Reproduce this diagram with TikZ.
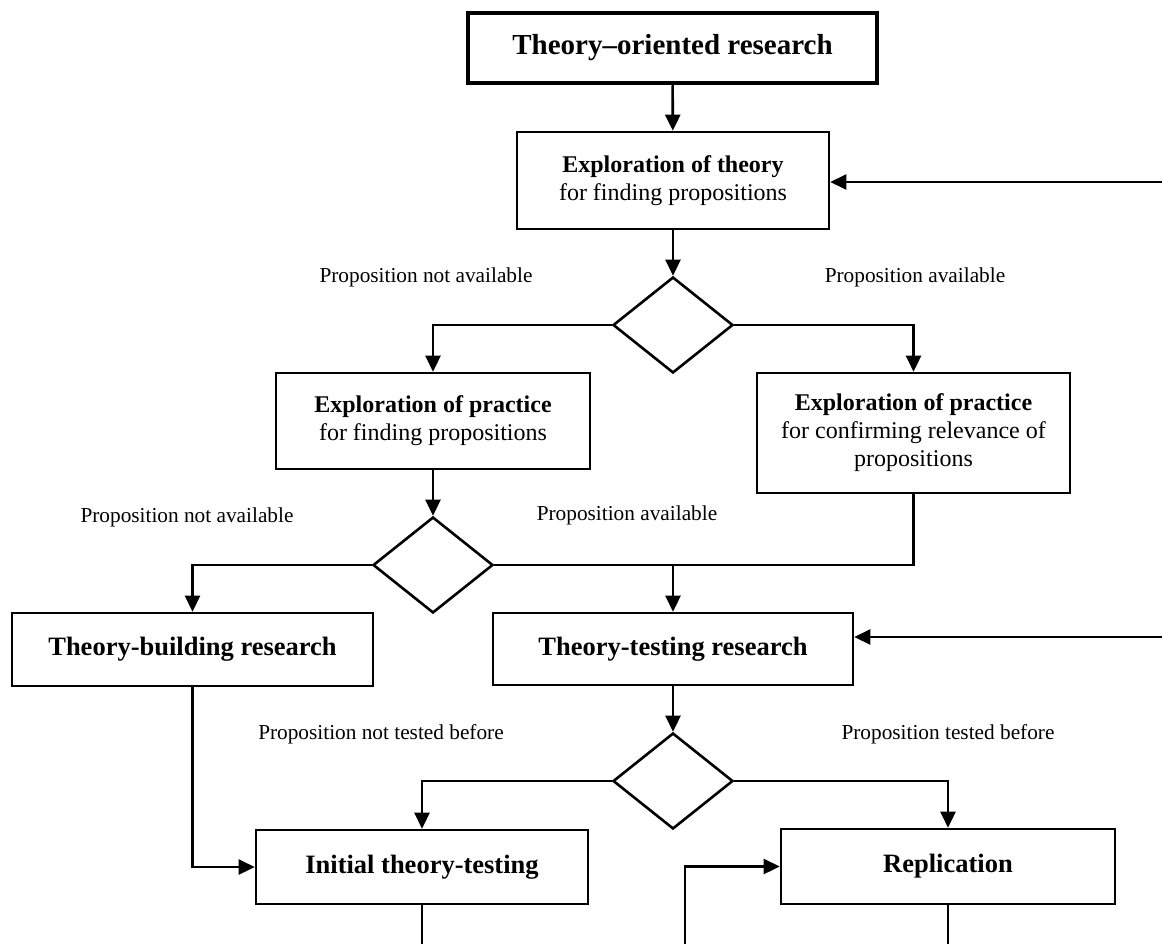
\documentclass[tikz,border=0pt]{standalone}
\usepackage{fontspec}
\setmainfont{Liberation Serif}
\usetikzlibrary{arrows.meta,shapes.geometric}

\begin{document}
\begin{tikzpicture}[x=1pt,y=-1pt,
  line width=2.6pt,
  >={Triangle[length=16pt,width=15pt]},
  box/.style={draw,rectangle,inner sep=0pt,align=center,
    font=\fontsize{24}{28}\selectfont},
  bigbox/.style={box,font=\fontsize{26.5}{30}\selectfont\bfseries},
  titlebox/.style={box,line width=4.5pt,font=\fontsize{29}{33}\selectfont\bfseries},
  decision/.style={draw,diamond,inner sep=0pt,minimum width=120pt,minimum height=96pt},
  lbl/.style={font=\fontsize{21.3}{25}\selectfont,inner sep=0pt}]

\useasboundingbox (0,0) rectangle (1162,944);

% process boxes
\node[titlebox,minimum width=409pt,minimum height=70pt] (top) at (672.5,48) {Theory--oriented research};
\node[box,minimum width=312pt,minimum height=97pt] (expth) at (673,180.5)
  {\textbf{Exploration of theory}\\for finding propositions};
\node[box,minimum width=314pt,minimum height=96pt] (exppr) at (433,421)
  {\textbf{Exploration of practice}\\for finding propositions};
\node[box,minimum width=313pt,minimum height=120pt] (expcf) at (913.5,433)
  {\textbf{Exploration of practice}\\for confirming relevance of\\propositions};
\node[bigbox,minimum width=361pt,minimum height=73pt] (build) at (192.5,649.5) {Theory-building research};
\node[bigbox,minimum width=360pt,minimum height=72pt] (test) at (673,649) {Theory-testing research};
\node[bigbox,minimum width=332pt,minimum height=74pt] (init) at (422,867) {Initial theory-testing};
\node[bigbox,minimum width=334pt,minimum height=75pt] (repl) at (948,866.5) {Replication};

% decisions
\node[decision] (d1) at (673,325) {};
\node[decision] (d2) at (433,565) {};
\node[decision] (d3) at (673,781) {};

% branch labels
\node[lbl] (l1) at (426,277) {Proposition not available};
\node[lbl] (l2) at (915,277) {Proposition available};
\node[lbl] (l3) at (187,517) {Proposition not available};
\node[lbl] (l4) at (627,515) {Proposition available};
\node[lbl] (l5) at (381,734) {Proposition not tested before};
\node[lbl] (l6) at (948,734) {Proposition tested before};

% loose ends at the picture border
\coordinate (in1) at (1162,182);
\coordinate (in2) at (1162,637);
\coordinate (out1) at (422,944);
\coordinate (in3) at (685,944);
\coordinate (out2) at (948,944);

% connectors
\draw[->] (top) -- (expth);
\draw[->] (in1) -- (in1 -| expth.east);
\draw[->] (expth) -- (d1);
\draw[->] (d1.west) -| (exppr.north);
\draw[->] (d1.east) -| (expcf.north);
\draw[->] (exppr) -- (d2);
\draw[->] (d2.west) -| (build.north);
\draw[->] (d2.east) -| (test.north);
\draw (expcf.south) |- (test.north |- d2.east);
\draw[->] (in2) -- (in2 -| test.east);
\draw[->] (test) -- (d3);
\draw[->] (d3.west) -| (init.north);
\draw[->] (d3.east) -| (repl.north);
\draw[->] (build.south) |- (init.west);
\draw (init.south) -- (out1);
\draw[->] (in3) |- (repl.west);
\draw (repl.south) -- (out2);
\end{tikzpicture}
\end{document}
